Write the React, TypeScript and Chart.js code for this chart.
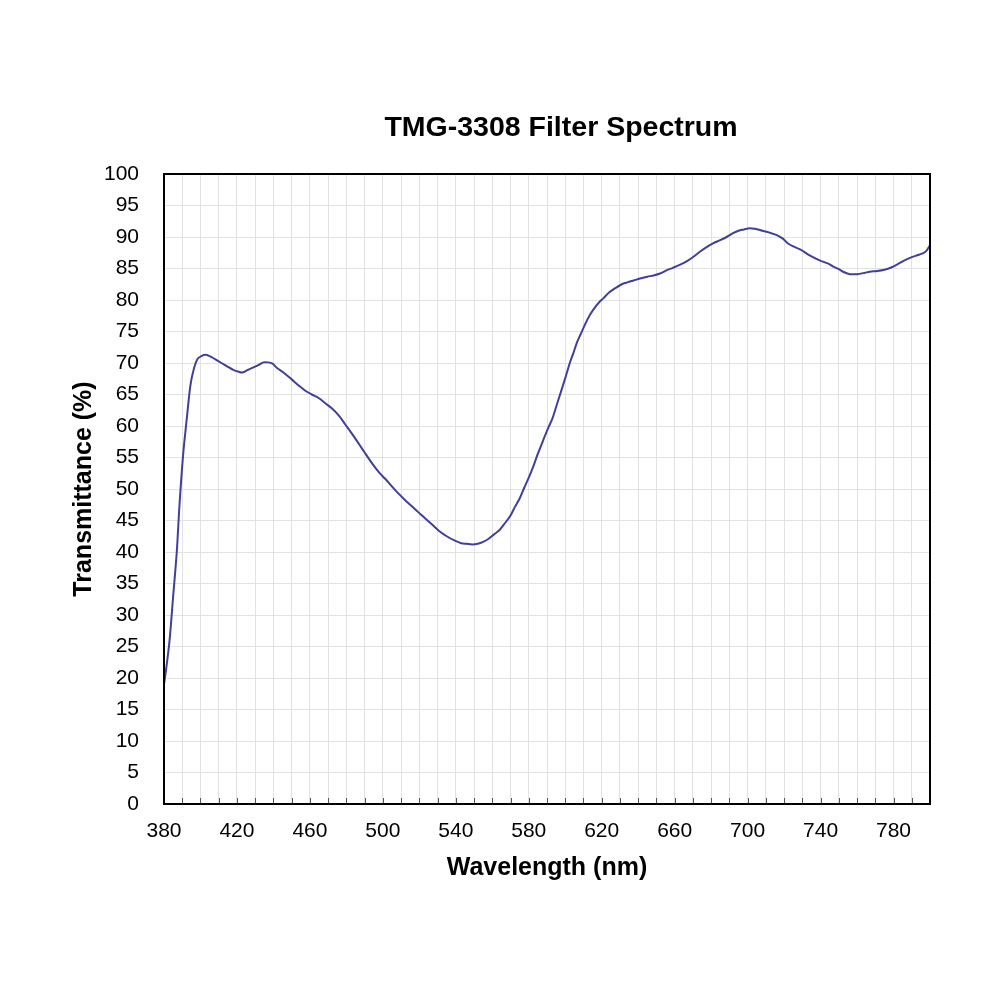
import React, { useEffect, useRef } from "react";
import { Chart, registerables } from "chart.js";

Chart.register(...registerables);

// wavelength (nm)
const wavelengths = [
  380, 381, 383, 385, 387, 388.5, 390.5, 392.5, 394.5, 396.5, 398.5, 400.5, 402.5, 405, 408,
  411.5, 415, 418, 421, 423, 426, 429, 432, 434.5, 437, 439.5, 442, 445.5, 450, 454, 457.5,
  461, 465, 468.5, 472, 476, 479.5, 483.5, 487, 490, 494.5, 498, 501, 505, 508.5, 512, 515,
  518, 521, 524.5, 528, 531, 535, 539.5, 543, 546, 549, 552, 555, 558, 561, 564, 567, 570,
  572.5, 575, 577.5, 580, 582.5, 585, 588, 590.5, 593, 595.5, 597.5, 600, 602.5, 604.5, 606.5,
  608.5, 611, 613.5, 616, 618.5, 621, 624, 627, 631, 634, 637.5, 641, 645, 648.5, 652, 655.5,
  659, 663, 667, 670.5, 674, 677.5, 681, 685, 688.5, 692, 695, 698, 701, 704, 708, 712, 716,
  719.5, 722, 725, 729, 734, 739.5, 744, 747, 750, 753, 756, 760, 764, 767, 771, 775, 779,
  783, 786, 790, 793, 796, 798, 800,
];

// transmittance (%)
const transmittance = [
  19.0, 21.0, 25.8, 32.9, 40.0, 47.5, 55.5, 61.2, 66.5, 69.2, 70.7, 71.1, 71.3, 71.1, 70.6,
  70.0, 69.4, 68.9, 68.6, 68.5, 68.9, 69.3, 69.7, 70.1, 70.1, 69.9, 69.2, 68.5, 67.4, 66.4, 65.6,
  65.0, 64.4, 63.6, 62.8, 61.6, 60.2, 58.6, 57.1, 55.8, 53.9, 52.6, 51.7, 50.4, 49.3, 48.3, 47.5,
  46.7, 45.9, 45.0, 44.1, 43.3, 42.5, 41.8, 41.4, 41.3, 41.2, 41.3, 41.6, 42.1, 42.8, 43.5, 44.6, 45.8,
  47.2, 48.5, 50.2, 51.8, 53.6, 55.6, 57.8, 59.6, 61.2, 63.5, 65.3, 67.6, 70.0, 71.6, 73.3,
  74.6, 76.2, 77.6, 78.7, 79.6, 80.3, 81.2, 81.8, 82.5, 82.8, 83.1, 83.4, 83.7, 83.9, 84.2, 84.7,
  85.1, 85.6, 86.2, 86.9, 87.7, 88.4, 89.0, 89.5, 90.0, 90.6, 91.0, 91.2, 91.4, 91.3, 91.0, 90.7, 90.3,
  89.7, 89.0, 88.5, 88.0, 87.1, 86.3, 85.8, 85.3, 84.9, 84.4, 84.1, 84.1, 84.3, 84.5, 84.6, 84.8, 85.2,
  85.8, 86.3, 86.8, 87.1, 87.4, 87.8, 88.7,
];

const xMin = 380;
const xMax = 800;
const xLabelStep = 40;

const FONT = "'Liberation Sans', Arial, sans-serif";

const App = () => {
  const canvasRef = useRef<HTMLCanvasElement>(null);

  useEffect(() => {
    document.body.style.margin = "0";
    if (!canvasRef.current) return;

    // box around the plot, inward ticks on the x axis, and the title
    const decorations = {
      id: "decorations",
      afterDraw(chart: any) {
        const { ctx, chartArea, scales } = chart;
        ctx.save();
        ctx.strokeStyle = "#555";
        ctx.lineWidth = 1;
        const xs = scales.x;
        xs.ticks.forEach((t: any) => {
          const px = Math.round(xs.getPixelForValue(t.value)) + 0.5;
          ctx.beginPath();
          ctx.moveTo(px, chartArea.bottom);
          ctx.lineTo(px, chartArea.bottom - 6);
          ctx.stroke();
        });
        ctx.strokeStyle = "#000";
        ctx.lineWidth = 2;
        ctx.strokeRect(chartArea.left, chartArea.top, chartArea.right - chartArea.left, chartArea.bottom - chartArea.top);
        ctx.fillStyle = "#000";
        ctx.font = `bold 28.5px ${FONT}`;
        ctx.textAlign = "center";
        ctx.textBaseline = "middle";
        ctx.fillText("TMG-3308 Filter Spectrum", 561, 128);
        ctx.restore();
      },
    };

    const chart = new Chart(canvasRef.current, {
      type: "line",
      data: {
        datasets: [
          {
            data: wavelengths.map((w, i) => ({ x: w, y: transmittance[i] })),
            borderColor: "#40409a",
            borderWidth: 2,
            pointRadius: 0,
            tension: 0.3,
            fill: false,
          },
        ],
      },
      options: {
        animation: false,
        responsive: false,
        devicePixelRatio: 1,
        layout: { padding: { top: 174, right: 70, bottom: 0, left: 0 } },
        plugins: {
          legend: { display: false },
          tooltip: { enabled: false },
        },
        scales: {
          x: {
            type: "linear",
            min: xMin,
            max: xMax,
            afterFit: (s: any) => {
              s.height = 196;
            },
            ticks: {
              stepSize: 10,
              autoSkip: false,
              maxRotation: 0,
              padding: 15,
              color: "#000",
              font: { family: FONT, size: 21 },
              callback: (v: any) => ((Number(v) - xMin) % xLabelStep === 0 ? String(v) : ""),
            },
            grid: { color: "#e2e2e2", lineWidth: 1, drawTicks: false },
            border: { display: false },
            title: {
              display: true,
              text: "Wavelength (nm)",
              color: "#000",
              font: { family: FONT, size: 25, weight: "bold", lineHeight: 1.2 },
              padding: { top: 0, bottom: 117 },
            },
          },
          y: {
            min: 0,
            max: 100,
            afterFit: (s: any) => {
              s.width = 164;
            },
            ticks: {
              stepSize: 5,
              padding: 25,
              color: "#000",
              font: { family: FONT, size: 21 },
            },
            grid: { color: "#e2e2e2", lineWidth: 1, drawTicks: false },
            border: { display: false },
            title: {
              display: true,
              text: "Transmittance (%)",
              color: "#000",
              font: { family: FONT, size: 25, weight: "bold", lineHeight: 1.2 },
              padding: { top: 69, bottom: 0 },
            },
          },
        },
      },
      plugins: [decorations],
    });

    return () => {
      chart.destroy();
    };
  }, []);

  return (
    <div style={{ width: "1000px", height: "1000px", background: "#fff" }}>
      <canvas ref={canvasRef} width="1000" height="1000"></canvas>
    </div>
  );
};

export default App;
